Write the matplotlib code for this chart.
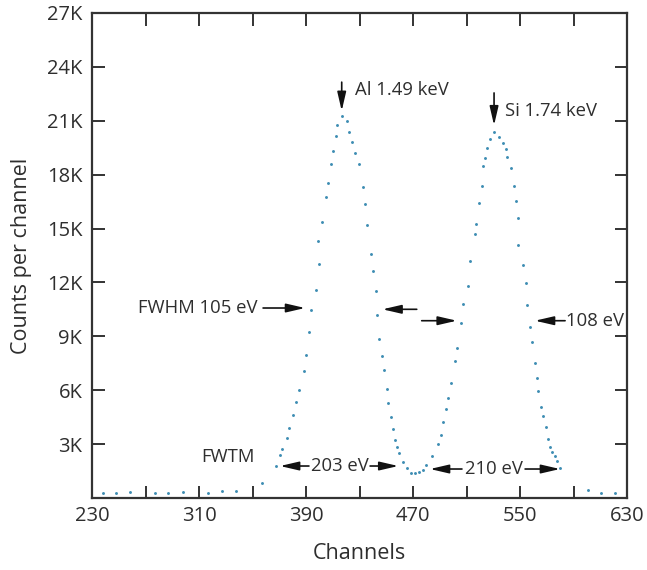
import matplotlib
matplotlib.use("Agg")
import matplotlib.pyplot as plt

plt.rcParams['font.family'] = ['Open Sans', 'DejaVu Sans']

# ---- data (channel, counts) ----
channels = [238.4, 247.9, 258.4, 277.1, 287.0, 297.8, 317.0, 327.0, 337.4, 356.9,
            367.6, 370.6, 372.3, 375.6, 377.5, 380.1, 382.3, 385.0, 388.7, 390.0,
            392.2, 393.7, 397.3, 400.0, 399.2, 401.7, 405.0, 406.7, 408.7, 410.4,
            412.2, 413.4, 416.7,
            420.4, 422.4, 424.6, 426.9, 429.9, 432.9, 433.9, 435.6, 438.8, 440.3,
            442.1, 442.9, 444.8, 446.6, 448.5, 450.3, 451.5, 453.3, 454.8, 456.6,
            457.8, 459.8, 462.3, 465.3, 468.3, 471.5, 474.7, 477.2, 479.7, 484.4,
            488.9, 490.7, 492.7, 494.7, 495.9, 498.2, 501.4, 503.1, 505.7, 507.6,
            510.9, 512.6, 516.4, 517.1, 519.6, 521.4, 522.1, 523.8, 525.1, 527.6,
            530.6,
            534.5, 537.5, 539.5, 540.5, 543.1, 545.5, 546.8, 548.3, 548.7, 552.5,
            554.2, 555.4, 557.5, 559.2, 561.2, 562.5, 563.7, 565.5, 567.4, 569.2,
            570.7, 572.4, 574.2, 576.2, 577.9, 579.9,
            601.1, 610.3, 621.0]
counts = [295, 278, 334, 306, 278, 334, 306, 390, 418, 852,
          1781, 2394, 2711, 3323, 3914, 4637, 5328, 6012, 7087, 7944,
          9258, 10466, 11607, 13027, 14324, 15382, 16740, 17519, 18594, 19318,
          20153, 20765, 21266,
          21004, 20358, 19802, 19223, 18594, 17297, 16367, 15198, 13583, 12620,
          11551, 10188, 8852, 7905, 7126, 6051, 5272, 4493, 3824, 3229,
          2856, 2488, 2021, 1653, 1408, 1375, 1464, 1559, 1837, 2355,
          3006, 3507, 4214, 4955, 5584, 6385, 7644, 8334, 9759, 10800,
          11802, 13211, 14697, 15254, 16440, 17386, 18482, 18945, 19468, 19969,
          20392,
          20114, 19746, 19412, 19000, 18388, 17369, 16534, 15571, 14085, 12971,
          11986, 10744, 9503, 8668, 7532, 6664, 5957, 5083, 4582, 3936,
          3285, 2856, 2578, 2338, 2077, 1653,
          445, 262, 295]

x_ticks = [230, 270, 310, 350, 390, 430, 470, 510, 550, 590, 630]
x_tick_labels = ['230', '', '310', '', '390', '', '470', '', '550', '', '630']
y_ticks = [3000, 6000, 9000, 12000, 15000, 18000, 21000, 24000, 27000]
y_tick_labels = ['3K', '6K', '9K', '12K', '15K', '18K', '21K', '24K', '27K']

peak_labels = ['Al 1.49 keV', 'Si 1.74 keV']
peak_pos = [416.7, 530.6]

TXT = '#2e2e2e'
FS = 13.3

fig = plt.figure(figsize=(6.47, 5.70), dpi=100)
ax = fig.add_axes([0.1422, 0.1263, 0.9691 - 0.1422, 0.9772 - 0.1263])

ax.plot(channels, counts, linestyle='none', marker='o', markersize=2.1,
        markeredgewidth=0, color='#3d8db3')

ax.set_xlim(230, 630)
ax.set_ylim(0, 27000)
ax.set_xticks(x_ticks)
ax.set_xticklabels(x_tick_labels)
ax.set_yticks(y_ticks)
ax.set_yticklabels(y_tick_labels)
ax.tick_params(direction='in', length=9, width=1.4, color='#333333',
               top=True, right=True, labelsize=14.5, labelcolor=TXT)
ax.tick_params(axis='y', pad=7)
ax.tick_params(axis='x', pad=6)
for s in ax.spines.values():
    s.set_linewidth(1.6)
    s.set_color('#333333')

ax.set_xlabel('Channels', fontsize=15.5, color=TXT, labelpad=12)
ax.set_ylabel('Counts per channel', fontsize=15.5, color=TXT, labelpad=11)

aprops = dict(arrowstyle='-|>,head_length=0.95,head_width=0.22', color='#111111',
              lw=1.2, mutation_scale=12, shrinkA=0, shrinkB=0)

def arrow(x0, y0, x1, y1):
    ax.annotate('', xy=(x1, y1), xytext=(x0, y0), arrowprops=aprops)

# peak labels
arrow(peak_pos[0], 23150, peak_pos[0], 21550)
ax.text(426.6, 22713, peak_labels[0], fontsize=FS, color=TXT, va='center', ha='left')
arrow(peak_pos[1], 22550, peak_pos[1], 20750)
ax.text(538.8, 21540, peak_labels[1], fontsize=FS, color=TXT, va='center', ha='left')

# FWHM
ax.text(353.4, 10561, 'FWHM 105 eV', fontsize=FS, color=TXT, va='center', ha='right')
arrow(357.9, 10577, 389.3, 10577)
arrow(472.8, 10505, 447.2, 10505)
arrow(476.5, 9870, 502.7, 9870)
arrow(583.7, 9870, 561.2, 9870)
ax.text(584.5, 9870, '108 eV', fontsize=FS, color=TXT, va='center', ha='left')

# FWTM
ax.text(331.3, 2300, 'FWTM', fontsize=FS, color=TXT, va='center', ha='center')
arrow(392.2, 1781, 370.6, 1781)
ax.text(415.0, 1781, '203 eV', fontsize=FS, color=TXT, va='center', ha='center')
arrow(437.9, 1781, 459.0, 1781)
arrow(506.6, 1614, 482.7, 1614)
ax.text(530.2, 1614, '210 eV', fontsize=FS, color=TXT, va='center', ha='center')
arrow(553.8, 1614, 579.9, 1614)

fig.savefig('out.png', dpi=100, facecolor='white')
